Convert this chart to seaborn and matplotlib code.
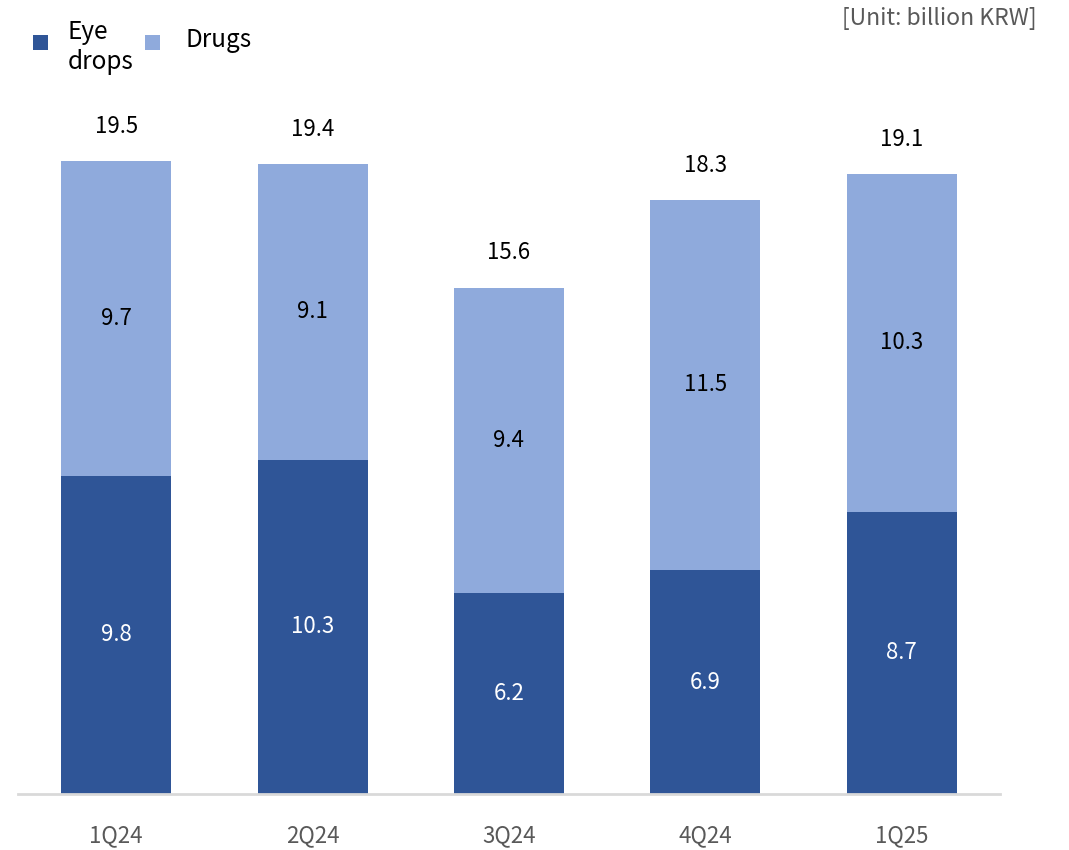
import matplotlib
matplotlib.use("Agg")
import matplotlib.pyplot as plt
import seaborn as sns
import pandas as pd
from matplotlib.patches import Rectangle

quarters = ["1Q24", "2Q24", "3Q24", "4Q24", "1Q25"]
eye_drops = [9.8, 10.3, 6.2, 6.9, 8.7]
drugs = [9.7, 9.1, 9.4, 11.5, 10.3]
totals = [19.5, 19.4, 15.6, 18.3, 19.1]
series_names = ["Eye\ndrops", "Drugs"]

sns.set_theme(style="white")
plt.rcParams['font.family'] = ['Noto Sans CJK KR', 'DejaVu Sans']

df = pd.DataFrame({"quarter": quarters, "eye": eye_drops, "drugs": drugs, "total": totals})

dark = "#2F5597"
light = "#8FAADC"

fig = plt.figure(figsize=(10.69, 8.5), dpi=100)
ax = fig.add_axes([18/1069, 56/850, (1000-18)/1069, 794/850])

sns.barplot(data=df, x="quarter", y="total", color=light, width=0.56, ax=ax,
            saturation=1, errorbar=None, linewidth=0, edgecolor="none")
sns.barplot(data=df, x="quarter", y="eye", color=dark, width=0.56, ax=ax,
            saturation=1, errorbar=None, linewidth=0, edgecolor="none")

ax.set_xlim(-0.5, 4.5)
ax.set_ylim(0, 24.46)

for i in range(len(quarters)):
    e = eye_drops[i]
    s = totals[i]
    ax.text(i, e / 2, f"{e:.1f}", ha="center", va="center", color="white", fontsize=16)
    ax.text(i, e + (s - e) / 2, f"{drugs[i]:.1f}", ha="center", va="center", color="black", fontsize=16)
    ax.text(i, s + 1.07, f"{totals[i]:.1f}", ha="center", va="center", color="black", fontsize=16)

for sp in ["top", "right", "left"]:
    ax.spines[sp].set_visible(False)
ax.spines["bottom"].set_color("#D9D9D9")
ax.spines["bottom"].set_linewidth(2)
ax.set_yticks([])
ax.set_xlabel("")
ax.set_ylabel("")
ax.tick_params(axis="x", length=0, pad=22, labelsize=16, labelcolor="#595959")

W, H = 1069, 850
def fx(x):
    return x / W
def fy(y):
    return 1 - y / H

# legend (manual)
sq = 15
fig.patches.append(Rectangle((fx(33), fy(50)), sq / W, sq / H, transform=fig.transFigure,
                             facecolor=dark, edgecolor="none"))
fig.patches.append(Rectangle((fx(145), fy(50)), sq / W, sq / H, transform=fig.transFigure,
                             facecolor=light, edgecolor="none"))
fig.text(fx(68), fy(47), series_names[0], ha="left", va="center", fontsize=17.5,
         color="black", linespacing=1.18)
fig.text(fx(186), fy(40), series_names[1], ha="left", va="center", fontsize=17.5,
         color="black")

fig.text(fx(1037), fy(18), "[Unit: billion KRW]", ha="right", va="center",
         fontsize=16.5, color="#595959")

fig.savefig("out.png", dpi=100)
